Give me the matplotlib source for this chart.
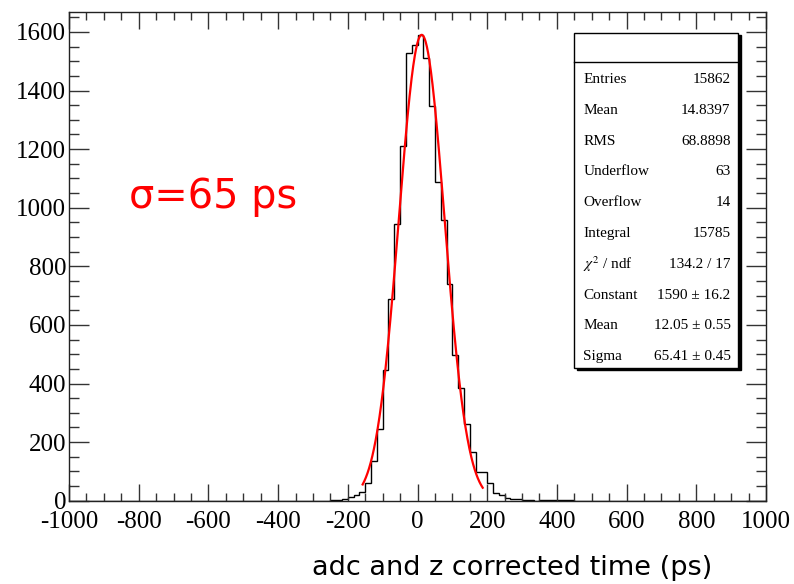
import numpy as np
import matplotlib
matplotlib.use("Agg")
import matplotlib.pyplot as plt
from matplotlib.patches import Rectangle
from matplotlib.lines import Line2D

# ---------------- data ----------------
x_min, x_max, n_bins = -1000.0, 1000.0, 120
counts = ([0] * 45 +
          [1, 3, 7, 14, 19, 29, 59, 135, 245, 447, 689, 945, 1209, 1527, 1556,
           1590, 1510, 1348, 1087, 958, 739, 497, 384, 262, 165, 99, 99, 59, 27,
           18, 10, 6, 6, 3, 1, 0, 2, 2, 2, 1, 2, 2] +
          [0] * 33)

fit_constant = 1590.0
fit_mean = 12.05
fit_sigma = 65.41
fit_range = [-157.4, 187.1]

x_ticks = [-1000, -800, -600, -400, -200, 0, 200, 400, 600, 800, 1000]
x_tick_labels = ["-1000", "-800", "-600", "-400", "-200", "0", "200", "400", "600", "800", "1000"]
y_ticks = [0, 200, 400, 600, 800, 1000, 1200, 1400, 1600]
y_tick_labels = ["0", "200", "400", "600", "800", "1000", "1200", "1400", "1600"]

stat_names = ["Entries", "Mean", "RMS", "Underflow", "Overflow", "Integral",
              r"$\chi^{2}$ / ndf", "Constant", "Mean", "Sigma"]
stat_values = ["15862", "14.8397", "68.8898", "63", "14", "15785",
               "134.2 / 17", "1590 ± 16.2", "12.05 ± 0.55", "65.41 ± 0.45"]

x_label = "adc and z corrected time (ps)"
annotation = "σ=65 ps"

# ---------------- figure ----------------
plt.rcParams["mathtext.fontset"] = "stix"
W, H = 794, 584
fig = plt.figure(figsize=(W / 100, H / 100), dpi=100)

def fx(px):
    return px / W

def fy(py):
    return 1 - py / H

ax_l, ax_r, ax_t, ax_b = 69, 766, 12, 500.7
ax = fig.add_axes([fx(ax_l), fy(ax_b), (ax_r - ax_l) / W, (ax_b - ax_t) / H])

edges = np.linspace(x_min, x_max, n_bins + 1)
ax.stairs(counts, edges, color="black", linewidth=1.0, baseline=None)

xf = np.linspace(fit_range[0], fit_range[1], 300)
yf = fit_constant * np.exp(-0.5 * ((xf - fit_mean) / fit_sigma) ** 2)
ax.plot(xf, yf, color="#ff0000", linewidth=1.6)

ax.set_xlim(x_min, x_max)
ax.set_ylim(0, 1668)

serif = "Liberation Serif"
ax.set_xticks(x_ticks)
ax.set_xticklabels(x_tick_labels, fontfamily=serif, fontsize=18)
ax.set_yticks(y_ticks)
ax.set_yticklabels(y_tick_labels, fontfamily=serif, fontsize=18)
ax.set_xticks(np.arange(-1000, 1001, 50), minor=True)
ax.set_yticks(np.arange(0, 1651, 50), minor=True)

ax.tick_params(which="both", direction="in", top=True, right=True, width=1.0, color="#333333")
ax.tick_params(axis="x", which="major", length=12.5, pad=7.5)
ax.tick_params(axis="x", which="minor", length=6)
ax.tick_params(axis="y", which="major", length=14.5, pad=2)
ax.tick_params(axis="y", which="minor", length=7.5)
for s in ax.spines.values():
    s.set_linewidth(1.0)
    s.set_color("#222222")

# ---------------- stats box ----------------
bx0, bx1, by0, by1 = 574.3, 738.3, 32.7, 367.7
shadow = Rectangle((fx(bx0 + 2.5), fy(by1 + 2.5)), (bx1 - bx0) / W, (by1 - by0) / H,
                   transform=fig.transFigure, facecolor="black", edgecolor="black",
                   linewidth=1.0, zorder=5)
box = Rectangle((fx(bx0), fy(by1)), (bx1 - bx0) / W, (by1 - by0) / H,
                transform=fig.transFigure, facecolor="white", edgecolor="black",
                linewidth=1.0, zorder=6)
fig.add_artist(shadow)
fig.add_artist(box)
fig.add_artist(Line2D([fx(bx0), fx(bx1)], [fy(62.3), fy(62.3)],
                      transform=fig.transFigure, color="black", linewidth=1.0, zorder=7))

for i, (nm, val) in enumerate(zip(stat_names, stat_values)):
    yy = 79.5 + 30.8 * i
    fig.text(fx(583.3), fy(yy), nm, ha="left", va="center", fontfamily=serif,
             fontsize=11, zorder=8)
    fig.text(fx(730.5), fy(yy), val, ha="right", va="center", fontfamily=serif,
             fontsize=11, zorder=8)

# ---------------- labels ----------------
fig.text(fx(512.5), fy(568), x_label, ha="center", va="center",
         fontfamily="DejaVu Sans", fontsize=19.5)
fig.text(fx(213.5), fy(197), annotation, ha="center", va="center",
         fontfamily="DejaVu Sans", fontsize=28.7, color="#ff0000")

fig.savefig("out.png", dpi=100)
